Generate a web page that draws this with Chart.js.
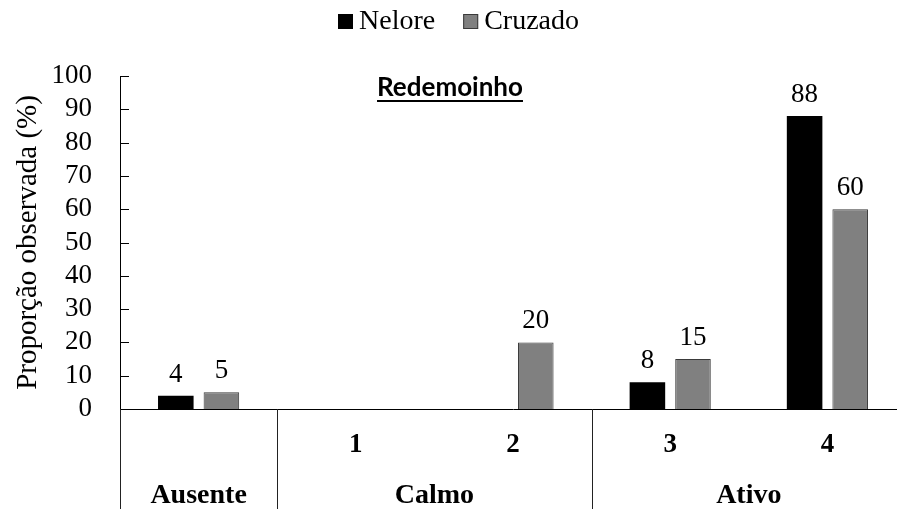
<!DOCTYPE html>
<html>
<head>
<meta charset="utf-8">
<script src="https://cdn.jsdelivr.net/npm/chart.js@4.4.0/dist/chart.umd.min.js"></script>
<style>
  html, body { margin: 0; padding: 0; background: #fff; overflow: hidden; }
  #wrap { width: 906px; height: 509px; position: relative; }
</style>
</head>
<body>
<div id="wrap"><canvas id="chart"></canvas></div>
<script>
// --- DATA ---
const categories = ['', '1', '2', '3', '4'];
const nelore = [4, null, null, 8, 88];
const cruzado = [5, null, 20, 15, 60];
const groupLabels = ['Ausente', 'Calmo', 'Ativo'];
const groupRanges = [[0, 0], [1, 2], [3, 4]];
const yTicksMax = 100;
const yTicksStep = 10;
const chartTitle = 'Redemoinho';
const yTitle = 'Proporção observada (%)';

const SERIF = '"Liberation Serif", "Times New Roman", serif';

// --- PLUGINS ---
const legendPlugin = {
  id: 'customLegend',
  afterDraw(chart) {
    const ctx = chart.ctx;
    ctx.save();
    ctx.font = '28px ' + SERIF;
    ctx.textBaseline = 'middle';
    const items = [
      { text: 'Nelore', fill: '#000000', stroke: '#000000' },
      { text: 'Cruzado', fill: '#808080', stroke: '#3a3a3a' }
    ];
    let x = 338;
    const y = 21;
    items.forEach(it => {
      ctx.fillStyle = it.fill;
      ctx.fillRect(x, y - 7, 15, 15);
      ctx.strokeStyle = it.stroke;
      ctx.lineWidth = 1;
      ctx.strokeRect(x + 0.5, y - 6.5, 14, 14);
      ctx.fillStyle = '#000';
      ctx.textAlign = 'left';
      ctx.fillText(it.text, x + 21, y + 1);
      x += 21 + ctx.measureText(it.text).width + 28;
    });
    ctx.restore();
  }
};

const decorPlugin = {
  id: 'decor',
  afterDraw(chart) {
    const ctx = chart.ctx;
    const area = chart.chartArea;
    const xs = chart.scales.x;
    const ys = chart.scales.y;
    ctx.save();

    // inward tick marks on y axis
    ctx.strokeStyle = '#000';
    ctx.lineWidth = 1;
    ys.ticks.forEach(t => {
      const y = Math.round(ys.getPixelForValue(t.value)) + 0.5;
      ctx.beginPath();
      ctx.moveTo(area.left, y);
      ctx.lineTo(area.left + 9, y);
      ctx.stroke();
    });

    // divider lines below the axis
    const step = xs.getPixelForValue(1) - xs.getPixelForValue(0);
    const dividers = [area.left, xs.getPixelForValue(0) + step / 2, xs.getPixelForValue(2) + step / 2];
    ctx.strokeStyle = '#222';
    dividers.forEach(x => {
      const px = Math.round(x) + 0.5;
      ctx.beginPath();
      ctx.moveTo(px, area.bottom);
      ctx.lineTo(px, chart.height);
      ctx.stroke();
    });

    // group labels
    ctx.fillStyle = '#000';
    ctx.font = 'bold 28px ' + SERIF;
    ctx.textAlign = 'center';
    ctx.textBaseline = 'middle';
    groupLabels.forEach((g, i) => {
      const r = groupRanges[i];
      const cx = (xs.getPixelForValue(r[0]) + xs.getPixelForValue(r[1])) / 2;
      ctx.fillText(g, cx, 496);
    });

    // chart title (bold, underlined)
    ctx.font = 'bold 26px Lato, "Liberation Sans", sans-serif';
    ctx.textBaseline = 'alphabetic';
    const tx = 450;
    ctx.fillText(chartTitle, tx, 96);
    const w = ctx.measureText(chartTitle).width;
    ctx.fillRect(tx - w / 2, 100, w, 2);

    // value labels above bars
    ctx.font = '27px ' + SERIF;
    ctx.textBaseline = 'alphabetic';
    chart.data.datasets.forEach((ds, di) => {
      const meta = chart.getDatasetMeta(di);
      meta.data.forEach((bar, i) => {
        const v = ds.data[i];
        if (v === null || v === undefined) return;
        ctx.fillText(String(v), bar.x, bar.y - 14);
      });
    });

    ctx.restore();
  }
};

// --- CHART ---
const ctx = document.getElementById('chart').getContext('2d');
new Chart(ctx, {
  type: 'bar',
  data: {
    labels: categories,
    datasets: [
      {
        label: 'Nelore',
        data: nelore,
        backgroundColor: '#000000',
        borderWidth: 0
      },
      {
        label: 'Cruzado',
        data: cruzado,
        backgroundColor: '#808080',
        borderColor: '#3a3a3a',
        borderWidth: 1
      }
    ]
  },
  options: {
    responsive: true,
    maintainAspectRatio: false,
    animation: false,
    layout: { padding: { top: 76, left: 0, right: 0, bottom: 0 } },
    datasets: { bar: { categoryPercentage: 0.58, barPercentage: 0.78 } },
    plugins: {
      legend: { display: false },
      tooltip: { enabled: false }
    },
    scales: {
      x: {
        grid: { display: false, drawTicks: false },
        border: { display: true, color: '#000', width: 1 },
        ticks: {
          color: '#000',
          padding: 20,
          maxRotation: 0,
          autoSkip: false,
          font: { family: SERIF, size: 27, weight: 'bold' }
        },
        afterFit(scale) { scale.height = 100; }
      },
      y: {
        min: 0,
        max: yTicksMax,
        grid: { display: false, drawTicks: false },
        border: { display: true, color: '#000', width: 1 },
        ticks: {
          stepSize: yTicksStep,
          autoSkip: false,
          color: '#000',
          padding: 28,
          font: { family: SERIF, size: 27 }
        },
        title: {
          display: true,
          text: yTitle,
          color: '#000',
          padding: { top: 11, bottom: 0 },
          font: { family: SERIF, size: 29 }
        },
        afterFit(scale) { scale.width = 120; }
      }
    }
  },
  plugins: [legendPlugin, decorPlugin]
});
</script>
</body>
</html>
